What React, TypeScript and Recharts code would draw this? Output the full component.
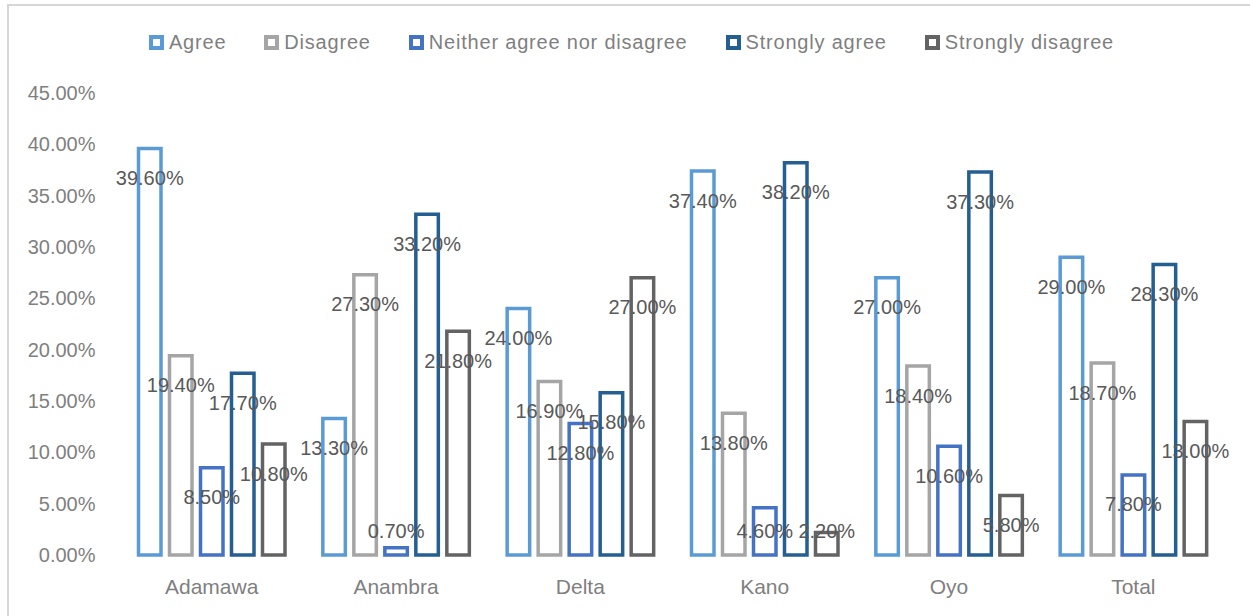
import { BarChart, Bar, XAxis, YAxis, LabelList } from "recharts";

const categories = ["Adamawa", "Anambra", "Delta", "Kano", "Oyo", "Total"];
const agree = [39.6, 13.3, 24.0, 37.4, 27.0, 29.0];
const disagree = [19.4, 27.3, 16.9, 13.8, 18.4, 18.7];
const neither = [8.5, 0.7, 12.8, 4.6, 10.6, 7.8];
const stronglyAgree = [17.7, 33.2, 15.8, 38.2, 37.3, 28.3];
const stronglyDisagree = [10.8, 21.8, 27.0, 2.2, 5.8, 13.0];
const yTicks = [0, 5, 10, 15, 20, 25, 30, 35, 40, 45];

const series = [
  { key: "agree", name: "Agree", color: "#5B9BD5" },
  { key: "disagree", name: "Disagree", color: "#A5A5A5" },
  { key: "neither", name: "Neither agree nor disagree", color: "#4472C4" },
  { key: "stronglyAgree", name: "Strongly agree", color: "#255E91" },
  { key: "stronglyDisagree", name: "Strongly disagree", color: "#636363" },
];

const data = categories.map((name, i) => ({
  name,
  agree: agree[i],
  disagree: disagree[i],
  neither: neither[i],
  stronglyAgree: stronglyAgree[i],
  stronglyDisagree: stronglyDisagree[i],
}));

const FONT = "'Liberation Sans', Arial, sans-serif";

// labels sit just inside the bar top, but never lower than a fixed line near the base
const BarLabel = (props: any) => {
  const { x, y, width, value } = props;
  const cx = Number(x) + Number(width) / 2;
  const cy = Math.min(Number(y) + 29.5, 531);
  return (
    <text
      x={cx}
      y={cy}
      textAnchor="middle"
      dominantBaseline="central"
      fill="#595959"
      fontSize={20}
      fontFamily={FONT}
    >
      {Number(value).toFixed(2)}%
    </text>
  );
};

export default function App() {
  return (
    <div style={{ position: "absolute", left: 0, top: 0, width: 1250, height: 616, background: "#fff", overflow: "hidden" }}>
      <div
        style={{
          position: "absolute",
          left: 7,
          top: 4,
          width: 1260,
          height: 640,
          borderTop: "2px solid #d6d6d6",
          borderLeft: "2px solid #d6d6d6",
        }}
      />
      <div
        style={{
          position: "absolute",
          left: 0,
          top: 30,
          width: 1263,
          display: "flex",
          justifyContent: "center",
          gap: 38,
          fontFamily: FONT,
          fontSize: 20,
          letterSpacing: 0.8,
          color: "#7f7f7f",
          lineHeight: "24px",
        }}
      >
        {series.map((s) => (
          <div key={s.key} style={{ display: "flex", alignItems: "center" }}>
            <span
              style={{
                width: 7,
                height: 7,
                border: `4px solid ${s.color}`,
                background: "#fff",
                marginRight: 5,
                display: "inline-block",
              }}
            />
            <span>{s.name}</span>
          </div>
        ))}
      </div>
      <div style={{ position: "absolute", left: 0, top: 0 }}>
        <BarChart
          width={1250}
          height={616}
          data={data}
          margin={{ top: 93, right: 24.5, bottom: 0, left: 0 }}
          barSize={22.5}
          barGap={8.5}
        >
          <XAxis
            dataKey="name"
            axisLine={false}
            tickLine={false}
            tickSize={0}
            tickMargin={24.5}
            height={61}
            tick={{ fill: "#7f7f7f", fontSize: 21, fontFamily: FONT }}
          />
          <YAxis
            domain={[0, 45]}
            ticks={yTicks}
            axisLine={false}
            tickLine={false}
            tickSize={0}
            tickMargin={24}
            width={119.5}
            tickFormatter={(v: number) => `${v.toFixed(2)}%`}
            tick={{ fill: "#7f7f7f", fontSize: 20, fontFamily: FONT }}
          />
          {series.map((s) => (
            <Bar
              key={s.key}
              dataKey={s.key}
              name={s.name}
              fill="transparent"
              stroke={s.color}
              strokeWidth={3.5}
              isAnimationActive={false}
            >
              <LabelList dataKey={s.key} content={BarLabel} />
            </Bar>
          ))}
        </BarChart>
      </div>
    </div>
  );
}
